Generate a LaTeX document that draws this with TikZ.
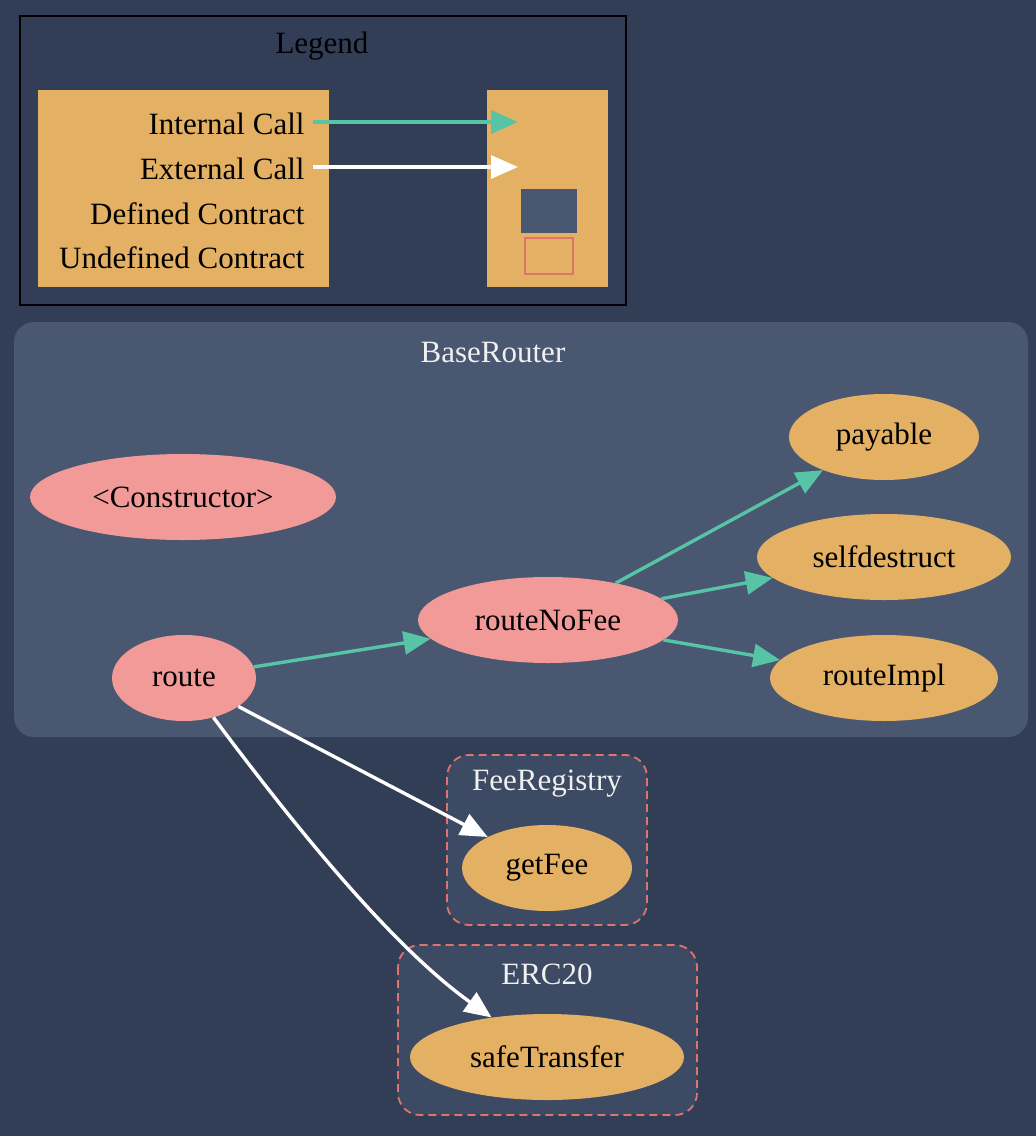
\documentclass[tikz,border=0pt]{standalone}
\usepackage{fontspec}
\setmainfont{Liberation Serif}
\usetikzlibrary{shapes.geometric,arrows.meta}
\definecolor{bg}{HTML}{323E56}
\definecolor{defc}{HTML}{495771}
\definecolor{undefc}{HTML}{3C4A63}
\definecolor{pinkf}{HTML}{F19A98}
\definecolor{orangef}{HTML}{E3B064}
\definecolor{teal}{HTML}{58C4A6}
\definecolor{salmon}{HTML}{E0736E}
\definecolor{titlec}{HTML}{F0F0F0}
\tikzset{
  every node/.style={font=\fontsize{31}{36}\selectfont},
  txt/.style={yshift=-2pt},
  fn/.style={ellipse, inner sep=0pt, text=black},
  pinkfn/.style={fn, fill=pinkf},
  orfn/.style={fn, fill=orangef},
  intcall/.style={-{Triangle[length=27pt,width=23pt,fill=teal]}, draw=teal, line width=3.4pt},
  extcall/.style={-{Triangle[length=27pt,width=23pt,fill=white]}, draw=white, line width=3.4pt},
  undefbox/.style={draw=salmon, fill=undefc, line width=1.8pt, dash pattern=on 8pt off 5pt, rounded corners=22pt},
  ctitle/.style={text=titlec, txt},
}
\begin{document}
\begin{tikzpicture}[x=1pt,y=-1pt]
\fill[bg] (0,0) rectangle (1036,1136);
\useasboundingbox (0,0) rectangle (1036,1136);

% Legend
\draw[black, line width=2pt] (20,16) rectangle (626,305);
\node[txt] (legtitle) at (322,44) {Legend};
\fill[orangef] (38,90) rectangle (329,287);
\fill[orangef] (487,90) rectangle (608,287);
\node[anchor=east, txt] (lint) at (308,122) {Internal Call};
\node[anchor=east, txt] (lext) at (308,167) {External Call};
\node[anchor=east, txt] (ldef) at (308,212) {Defined Contract};
\node[anchor=east, txt] (lund) at (308,256) {Undefined Contract};
\coordinate (ia) at (313,122);
\coordinate (ib) at (518,122);
\coordinate (ea) at (313,167);
\coordinate (eb) at (518,167);
\draw[intcall] (ia) -- (ib);
\draw[extcall] (ea) -- (eb);
\fill[defc] (521,189) rectangle (577,233);
\draw[salmon, line width=1.8pt] (525,238) rectangle (573,274);

% BaseRouter cluster
\fill[defc, rounded corners=20pt] (14,322) rectangle (1028,737);
\node[ctitle] (brtitle) at (493,350) {BaseRouter};

% FeeRegistry and ERC20 clusters
\draw[undefbox] (447,755) rectangle (647,925);
\node[ctitle] (frtitle) at (547,782) {FeeRegistry};
\draw[undefbox] (398,945) rectangle (697,1115);
\node[ctitle] (ertitle) at (547,972) {ERC20};

% Nodes
\node[pinkfn, minimum width=306pt, minimum height=86pt] (ctor) at (183,497) {<Constructor>};
\node[orfn, minimum width=190pt, minimum height=86pt] (payable) at (884,437) {payable};
\node[orfn, minimum width=254pt, minimum height=86pt] (selfd) at (884,557) {selfdestruct};
\node[pinkfn, minimum width=260pt, minimum height=86pt] (rnf) at (548,620) {routeNoFee};
\node[pinkfn, minimum width=144pt, minimum height=86pt] (route) at (184,678) {route};
\node[orfn, minimum width=228pt, minimum height=86pt] (rimpl) at (884,678) {routeImpl};
\node[orfn, minimum width=170pt, minimum height=86pt] (getfee) at (547,868) {getFee};
\node[orfn, minimum width=274pt, minimum height=86pt] (safet) at (547,1057) {safeTransfer};

% Edges
\draw[intcall] (route) -- (rnf);
\draw[intcall] (rnf) -- (payable);
\draw[intcall] (rnf) -- (selfd);
\draw[intcall] (rnf) -- (rimpl);
\draw[extcall] (route) -- (getfee);
\draw[extcall] (route) .. controls (290,820) and (390,945) .. (safet);
\end{tikzpicture}
\end{document}
